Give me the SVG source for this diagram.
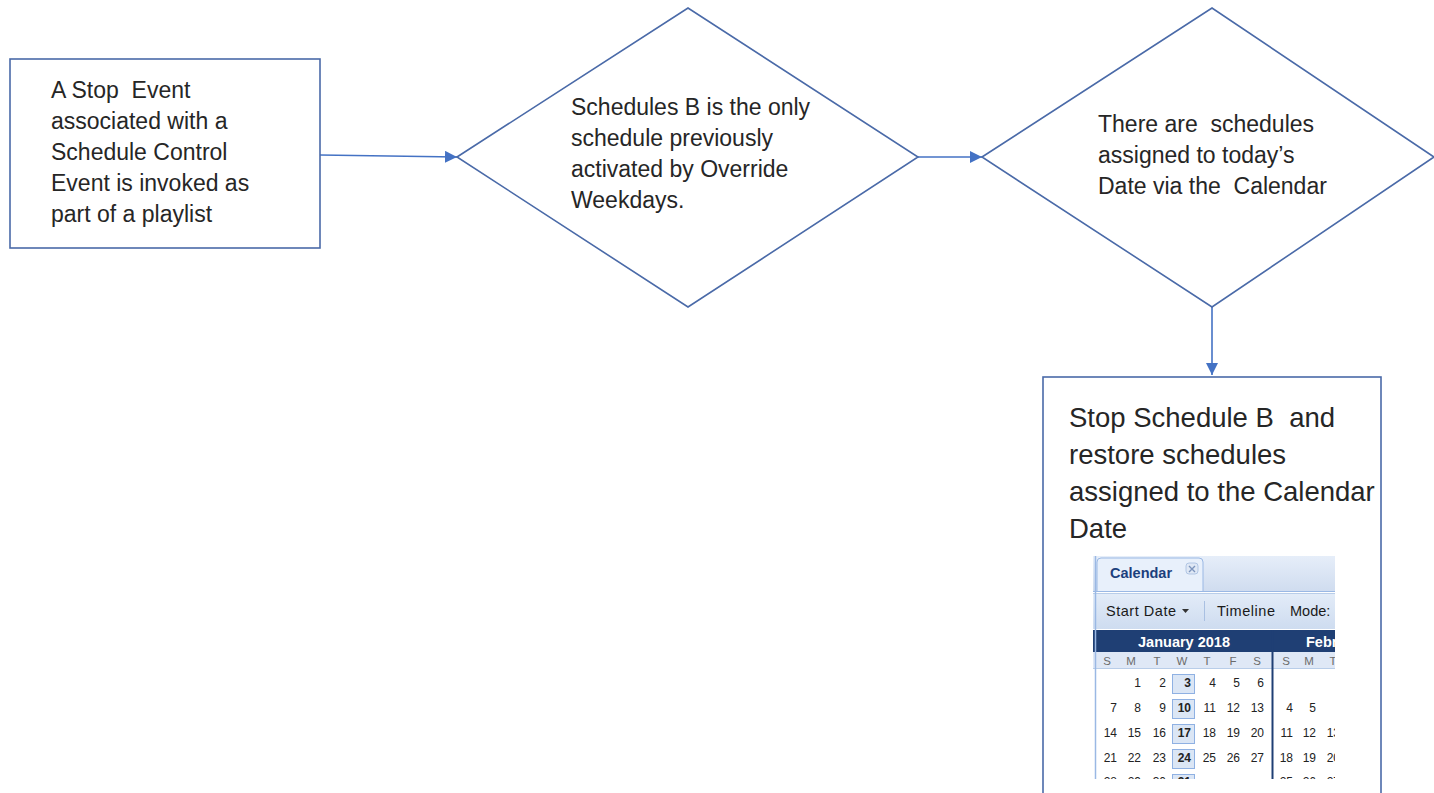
<svg xmlns="http://www.w3.org/2000/svg" width="1434" height="793" viewBox="0 0 1434 793" xml:space="preserve">
  <style>
    .shape { fill: #ffffff; stroke: #4a6aa8; stroke-width: 1.6; }
    .lbl { font-family: "Liberation Sans", Arial, sans-serif; font-size: 23px; fill: #262626; white-space: pre; }
    .big { font-family: "Liberation Sans", Arial, sans-serif; font-size: 27.5px; fill: #262626; white-space: pre; }
    .conn { fill: none; stroke: #4472c4; stroke-width: 1.6; }
    .tb { font-family: "Liberation Sans", Arial, sans-serif; font-size: 14.5px; fill: #1a1a1a; }
    .day { font-family: "Liberation Sans", Arial, sans-serif; font-size: 12px; fill: #222; text-anchor: end; }
    .dh { font-family: "Liberation Sans", Arial, sans-serif; font-size: 11.5px; fill: #6b6b6b; text-anchor: middle; }
    .wk { fill: #dbe6f5; stroke: #8fb1e3; stroke-width: 1; }
  </style>
  <defs>
    <marker id="arrowBig" viewBox="0 0 10 10" refX="10" refY="5" markerWidth="12" markerHeight="12" markerUnits="userSpaceOnUse" orient="auto">
      <path d="M0,0 L10,5 L0,10 z" fill="#4472c4"/>
    </marker>
    <linearGradient id="tabStrip" x1="0" y1="0" x2="0" y2="1">
      <stop offset="0" stop-color="#e6eef9"/>
      <stop offset="1" stop-color="#cfdcef"/>
    </linearGradient>
    <linearGradient id="toolbar" x1="0" y1="0" x2="0" y2="1">
      <stop offset="0" stop-color="#e3ecf8"/>
      <stop offset="1" stop-color="#cedcf0"/>
    </linearGradient>
    <clipPath id="calClip">
      <rect x="1093" y="556" width="242" height="223"/>
    </clipPath>
  </defs>

  <rect width="1434" height="793" fill="#ffffff"/>

  <!-- connectors -->
  <g id="connectors">
    <path class="conn" d="M320,155 L457,157" marker-end="url(#arrowBig)"/>
    <path class="conn" d="M918,157 L982,157" marker-end="url(#arrowBig)"/>
    <path class="conn" d="M1212,307 L1212,375" marker-end="url(#arrowBig)"/>
  </g>

  <g id="start-event">
    <rect class="shape" x="10" y="59" width="310" height="189"/>
    <text class="lbl"><tspan x="51" y="98">A Stop  Event</tspan><tspan x="51" y="129">associated with a</tspan><tspan x="51" y="160">Schedule Control</tspan><tspan x="51" y="191">Event is invoked as</tspan><tspan x="51" y="222">part of a playlist</tspan></text>
  </g>

  <g id="decision-override">
    <polygon class="shape" points="457,157 688,8 918,157 688,307"/>
    <text class="lbl"><tspan x="571" y="115">Schedules B is the only</tspan><tspan x="571" y="146">schedule previously</tspan><tspan x="571" y="177">activated by Override</tspan><tspan x="571" y="208">Weekdays.</tspan></text>
  </g>

  <g id="decision-calendar">
    <polygon class="shape" points="982,157 1212,8 1434,157 1212,307"/>
    <text class="lbl"><tspan x="1098" y="132">There are  schedules</tspan><tspan x="1098" y="163">assigned to today’s</tspan><tspan x="1098" y="194">Date via the  Calendar</tspan></text>
  </g>

  <g id="restore-schedules">
    <rect class="shape" x="1043" y="377" width="338" height="430"/>
    <text class="big"><tspan x="1069" y="427">Stop Schedule B  and</tspan><tspan x="1069" y="464">restore schedules</tspan><tspan x="1069" y="501">assigned to the Calendar</tspan><tspan x="1069" y="538">Date</tspan></text>

    <!-- calendar panel -->
    <g id="calendar-panel" clip-path="url(#calClip)">
      <rect x="1093" y="556" width="242" height="223" fill="#ffffff"/>
      <!-- tab strip -->
      <rect x="1093" y="556" width="242" height="36" fill="url(#tabStrip)"/>
      <path d="M1097,591 L1097,562 Q1097,558 1101,558 L1199,558 Q1203,558 1203,562 L1203,591" fill="#e8f0fb" stroke="#9ab8e4" stroke-width="1"/>
      <text x="1110" y="578" font-family="Liberation Sans, Arial, sans-serif" font-size="14.5px" font-weight="bold" fill="#1c3f7d">Calendar</text>
      <rect x="1186" y="563" width="12" height="11" rx="3" fill="#dfe8f5" stroke="#a5bde0" stroke-width="0.8"/>
      <path d="M1189,566 L1195,572 M1195,566 L1189,572" stroke="#7d95bd" stroke-width="1.4"/>
      <line x1="1093" y1="591.5" x2="1335" y2="591.5" stroke="#9ab8e4" stroke-width="1"/>
      <!-- toolbar -->
      <rect x="1093" y="593" width="242" height="36" fill="url(#toolbar)"/>
      <line x1="1093" y1="593.5" x2="1335" y2="593.5" stroke="#b8cde9" stroke-width="1"/>
      <text class="tb" x="1106" y="616" textLength="70">Start Date</text>
      <path d="M1182,609 L1189,609 L1185.5,613 z" fill="#333"/>
      <line x1="1204.5" y1="601" x2="1204.5" y2="621" stroke="#a9c0e2" stroke-width="1"/>
      <text class="tb" x="1217" y="616" textLength="58">Timeline</text>
      <text class="tb" x="1290" y="616">Mode:</text>
      <!-- month headers -->
      <rect x="1093" y="630" width="242" height="22" fill="#1f3f74"/>
      <text x="1184" y="647" text-anchor="middle" font-family="Liberation Sans, Arial, sans-serif" font-size="14.5px" font-weight="bold" fill="#ffffff">January 2018</text>
      <text x="1306" y="647" font-family="Liberation Sans, Arial, sans-serif" font-size="14.5px" font-weight="bold" fill="#ffffff">February 2018</text>
      <!-- weekday row -->
      <rect x="1093" y="652" width="242" height="16" fill="#dfe8f6"/>
      <line x1="1093" y1="668.5" x2="1335" y2="668.5" stroke="#b8cde9" stroke-width="1"/>
      <g>
        <text class="dh" x="1107" y="665">S</text>
        <text class="dh" x="1131" y="665">M</text>
        <text class="dh" x="1157" y="665">T</text>
        <text class="dh" x="1182" y="665">W</text>
        <text class="dh" x="1207" y="665">T</text>
        <text class="dh" x="1233" y="665">F</text>
        <text class="dh" x="1257" y="665">S</text>
        <text class="dh" x="1286" y="665">S</text>
        <text class="dh" x="1309" y="665">M</text>
        <text class="dh" x="1333" y="665">T</text>
      </g>
      <!-- month separator and left border -->
      <line x1="1272.5" y1="630" x2="1272.5" y2="779" stroke="#1f3f74" stroke-width="2"/>
      <line x1="1095.5" y1="556" x2="1095.5" y2="779" stroke="#9ab8e4" stroke-width="1.5"/>
      <!-- highlighted Wednesdays -->
      <rect class="wk" x="1172.5" y="674.5" width="22" height="19"/>
      <rect class="wk" x="1172.5" y="699.5" width="22" height="19"/>
      <rect class="wk" x="1172.5" y="724.5" width="22" height="19"/>
      <rect class="wk" x="1172.5" y="749.5" width="22" height="19"/>
      <rect class="wk" x="1172.5" y="774.5" width="22" height="19"/>
      <!-- January dates -->
      <g class="day">
        <text x="1141" y="687">1</text><text x="1166" y="687">2</text><text x="1191" y="687" font-weight="bold">3</text><text x="1216" y="687">4</text><text x="1240" y="687">5</text><text x="1264" y="687">6</text>
        <text x="1117" y="712">7</text><text x="1141" y="712">8</text><text x="1166" y="712">9</text><text x="1191" y="712" font-weight="bold">10</text><text x="1216" y="712">11</text><text x="1240" y="712">12</text><text x="1264" y="712">13</text>
        <text x="1117" y="737">14</text><text x="1141" y="737">15</text><text x="1166" y="737">16</text><text x="1191" y="737" font-weight="bold">17</text><text x="1216" y="737">18</text><text x="1240" y="737">19</text><text x="1264" y="737">20</text>
        <text x="1117" y="762">21</text><text x="1141" y="762">22</text><text x="1166" y="762">23</text><text x="1191" y="762" font-weight="bold">24</text><text x="1216" y="762">25</text><text x="1240" y="762">26</text><text x="1264" y="762">27</text>
        <text x="1117" y="786">28</text><text x="1141" y="786">29</text><text x="1166" y="786">30</text><text x="1191" y="786" font-weight="bold">31</text>
      </g>
      <!-- February dates -->
      <g class="day">
        <text x="1293" y="712">4</text><text x="1316" y="712">5</text>
        <text x="1293" y="737">11</text><text x="1316" y="737">12</text><text x="1340" y="737">13</text>
        <text x="1293" y="762">18</text><text x="1316" y="762">19</text><text x="1340" y="762">20</text>
        <text x="1293" y="786">25</text><text x="1316" y="786">26</text><text x="1340" y="786">27</text>
      </g>
    </g>
  </g>
</svg>
